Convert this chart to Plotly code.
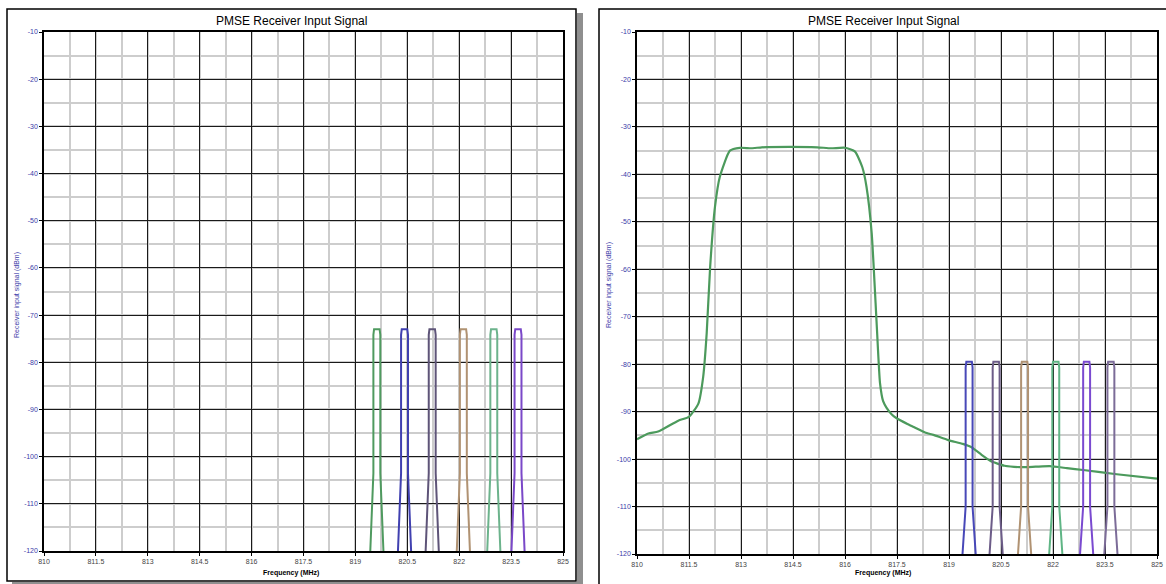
import plotly.graph_objects as go

W, H = 1166, 584

# ---------------- data ----------------
x_ticks = [810, 811.5, 813, 814.5, 816, 817.5, 819, 820.5, 822, 823.5, 825]
x_ticktext = ["810", "811.5", "813", "814.5", "816", "817.5", "819", "820.5", "822", "823.5", "825"]
y_ticks = [-10, -20, -30, -40, -50, -60, -70, -80, -90, -100, -110, -120]
y_ticktext = ["-10", "-20", "-30", "-40", "-50", "-60", "-70", "-80", "-90", "-100", "-110", "-120"]

# left panel: PMSE carriers (centre MHz) and peak level
left_centers = [819.62, 820.42, 821.22, 822.12, 823.0, 823.7]
left_peak = -73.0
left_colors = ["#4f9a5f", "#4040b0", "#5e5478", "#b09272", "#6cb38c", "#7a48c8"]

# right panel: PMSE carriers and peak level
right_centers = [819.58, 820.36, 821.18, 822.08, 822.97, 823.67]
right_peak = -79.5
right_colors = ["#4848b8", "#6c5c88", "#b09272", "#5fb585", "#7a4ad0", "#7c6c98"]

# carrier spectral profile: offset from centre (MHz) and level relative to peak (dB)
prof_offset = [-0.19, -0.10, -0.10, -0.08, 0.08, 0.10, 0.10, 0.19]
prof_rel = [-47.0, -30.5, -1.2, 0.0, 0.0, -1.2, -30.5, -47.0]

# right panel: interfering (LTE / DTT) signal
int_freq = [810.0, 810.33, 810.61, 811.19, 811.5, 811.77, 811.91, 812.01, 812.11, 812.25,
            812.39, 812.68, 812.97, 813.3, 813.6, 814.41, 815.2, 815.6, 816.0, 816.29,
            816.5, 816.62, 816.77, 816.91, 817.01, 817.1, 817.2, 817.35, 817.49, 817.8,
            818.0, 818.31, 818.55, 818.98, 819.4, 819.65, 819.94, 820.2, 820.38, 820.6,
            821.05, 821.5, 821.91, 822.4, 822.87, 823.84, 825.0]
int_level = [-95.8, -94.6, -94.2, -91.9, -91.1, -88.3, -82.6, -73.5, -59.5, -46.8,
             -40.5, -35.0, -34.4, -34.5, -34.3, -34.2, -34.3, -34.5, -34.4, -35.2,
             -38.5, -42.6, -52.4, -71.0, -84.0, -87.8, -89.2, -90.6, -91.4, -92.6,
             -93.3, -94.4, -94.9, -96.0, -96.8, -97.5, -99.1, -100.4, -100.9, -101.4,
             -101.7, -101.6, -101.5, -101.9, -102.3, -103.2, -104.1]

title_text = "PMSE Receiver Input Signal"
x_title = "Frequency (MHz)"
y_title = "Receiver input signal (dBm)"

# ---------------- layout helpers ----------------
def px(x):
    return x / W

def py(y):
    return 1 - y / H

fig = go.Figure()

def add_carriers(centers, peak, colors, xa, ya):
    for c, col in zip(centers, colors):
        xs = [c + o for o in prof_offset]
        ys = [max(peak + r, -120) for r in prof_rel]
        fig.add_trace(go.Scatter(x=xs, y=ys, mode="lines", xaxis=xa, yaxis=ya,
                                 line=dict(color=col, width=2), showlegend=False,
                                 hoverinfo="skip"))

add_carriers(left_centers, left_peak, left_colors, "x", "y")
fig.add_trace(go.Scatter(x=int_freq, y=int_level, mode="lines", xaxis="x2", yaxis="y2",
                         line=dict(color="#4c9a5c", width=2.2, shape="spline", smoothing=0.5),
                         showlegend=False))
add_carriers(right_centers, right_peak, right_colors, "x2", "y2")

major = "#1a1a1a"
minor = "#cdcdcd"
tickfont_x = dict(family="Liberation Sans, Arial", size=7, color="#444444")
tickfont_y = dict(family="Liberation Sans, Arial", size=7, color="#3a3aa8")

def xaxis(domain, anchor):
    return dict(domain=domain, range=[810, 825], tickmode="array", tickvals=x_ticks,
                ticktext=x_ticktext, showgrid=True, gridcolor=major, gridwidth=1.3,
                minor=dict(tick0=810, dtick=0.75, showgrid=True, gridcolor=minor, gridwidth=1.5),
                showline=True, linecolor="#000000", linewidth=1.5, mirror=True,
                ticks="outside", ticklen=3, tickcolor="#000000", tickfont=tickfont_x,
                zeroline=False, anchor=anchor, automargin=False, fixedrange=True)

def yaxis(domain, anchor):
    return dict(domain=domain, range=[-120, -10], tickmode="array", tickvals=y_ticks,
                ticktext=y_ticktext, showgrid=True, gridcolor=major, gridwidth=1.3,
                minor=dict(tick0=-120, dtick=5, showgrid=True, gridcolor=minor, gridwidth=1.5),
                showline=True, linecolor="#000000", linewidth=1.5, mirror=True,
                ticks="outside", ticklen=3, tickcolor="#000000", tickfont=tickfont_y,
                zeroline=False, anchor=anchor, automargin=False, fixedrange=True)

fig.update_layout(
    width=W, height=H, margin=dict(l=0, r=0, t=0, b=0, pad=0, autoexpand=False),
    paper_bgcolor="white", plot_bgcolor="white", showlegend=False,
    xaxis=xaxis([px(44), px(563)], "y"),
    yaxis=yaxis([py(551), py(32)], "x"),
    xaxis2=xaxis([px(637), px(1157)], "y2"),
    yaxis2=yaxis([py(554), py(32)], "x2"),
)

shapes = [
    # left panel shadow
    dict(type="rect", xref="paper", yref="paper", x0=px(577), x1=px(583), y0=py(590), y1=py(13),
         fillcolor="#8f8f8f", line=dict(width=0), layer="below"),
    dict(type="rect", xref="paper", yref="paper", x0=px(12), x1=px(583), y0=py(590), y1=py(582),
         fillcolor="#8f8f8f", line=dict(width=0), layer="below"),
    # left frame
    dict(type="rect", xref="paper", yref="paper", x0=px(7), x1=px(576), y0=py(581), y1=py(9),
         fillcolor="rgba(0,0,0,0)", line=dict(color="#000000", width=1.5)),
    # right frame
    dict(type="rect", xref="paper", yref="paper", x0=px(599), x1=px(1175), y0=py(595), y1=py(9),
         fillcolor="rgba(0,0,0,0)", line=dict(color="#000000", width=1.5)),
]
fig.update_layout(shapes=shapes)

ann = []
for cx, ylab_x, ylab_y in [(291, 17, 295), (883, 609, 285)]:
    ann.append(dict(text=title_text, x=px(cx), y=py(21), xref="paper", yref="paper",
                    showarrow=False, xanchor="center", yanchor="middle",
                    font=dict(family="Liberation Sans, Arial", size=12, color="#000000")))
    ann.append(dict(text="<b>" + x_title + "</b>", x=px(cx), y=py(573), xref="paper", yref="paper",
                    showarrow=False, xanchor="center", yanchor="middle",
                    font=dict(family="Liberation Sans, Arial", size=7, color="#000000")))
    ann.append(dict(text=y_title, x=px(ylab_x), y=py(ylab_y), xref="paper", yref="paper",
                    showarrow=False, xanchor="center", yanchor="middle", textangle=-90,
                    font=dict(family="Liberation Sans, Arial", size=7, color="#3a3aa8")))
fig.update_layout(annotations=ann)

fig.write_html("out.html", config={"responsive": False, "displayModeBar": False},
               post_script="document.body.style.margin='0';document.body.style.overflow='hidden';")
